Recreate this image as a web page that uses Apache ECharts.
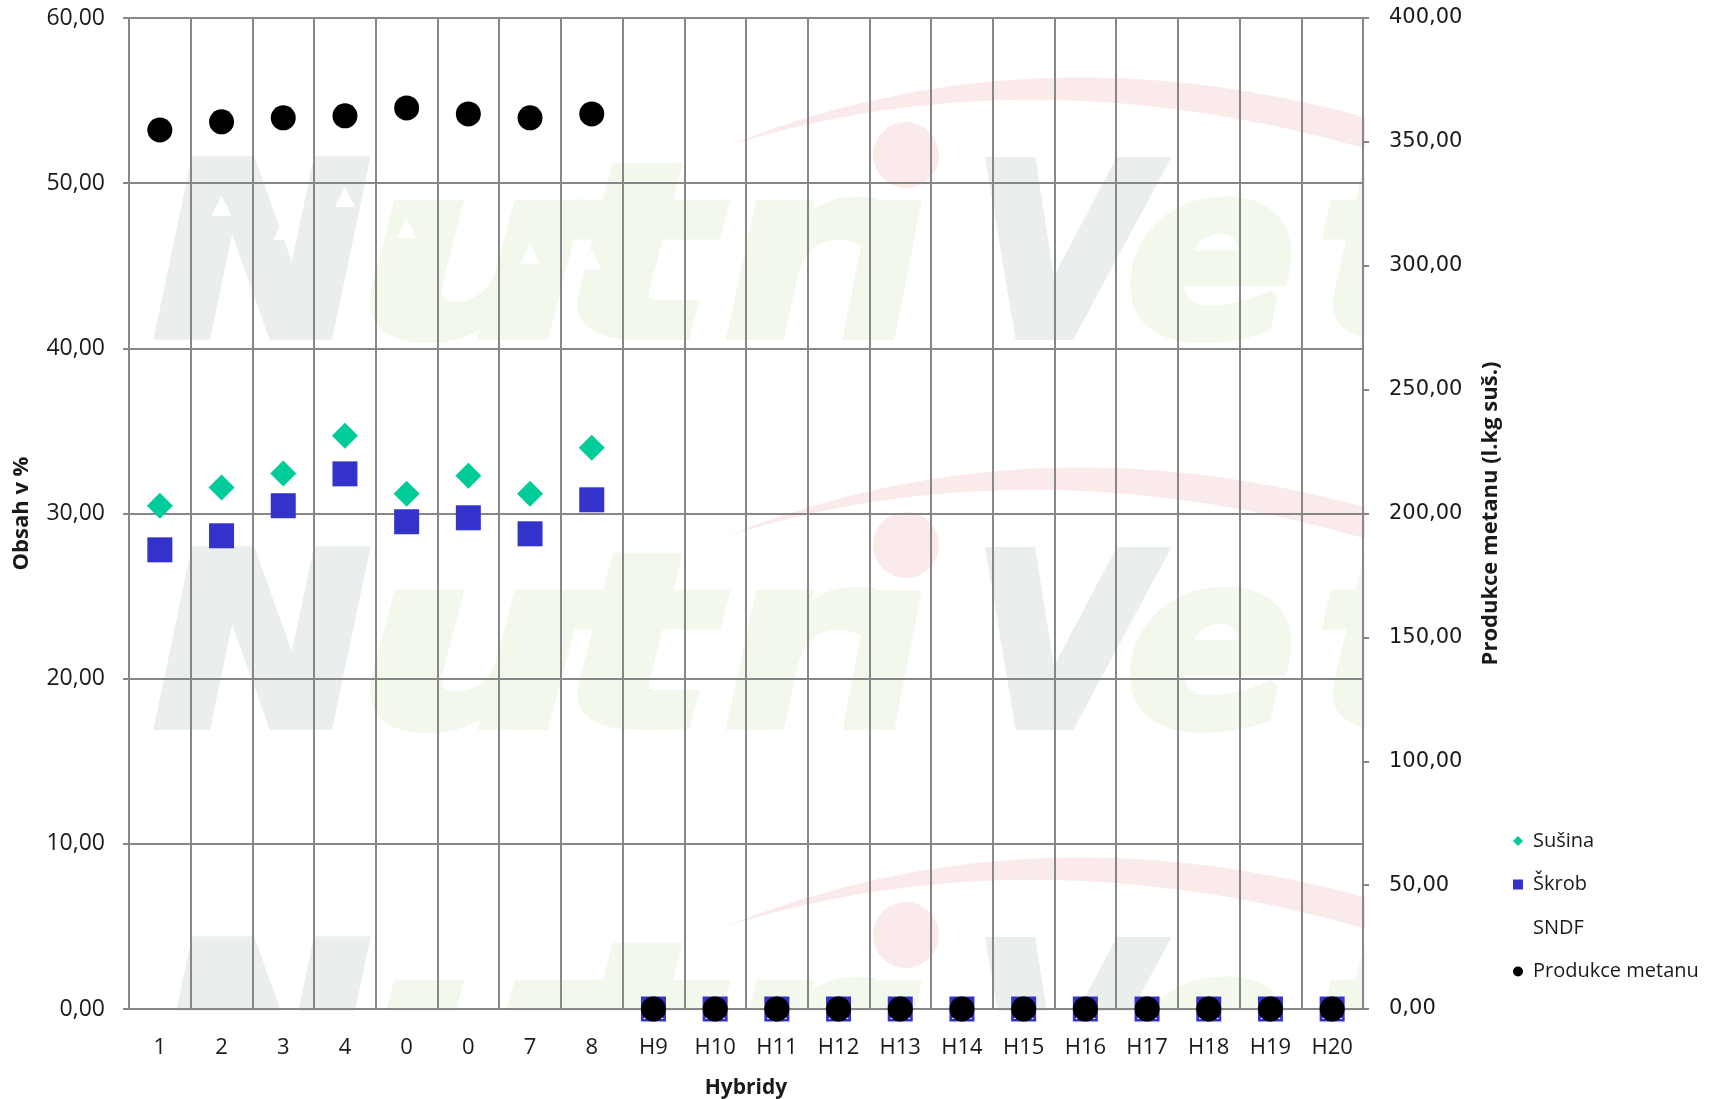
<!DOCTYPE html>
<html>
<head>
<meta charset="utf-8">
<title>Hybridy</title>
<script src="https://cdn.jsdelivr.net/npm/echarts@6/dist/echarts.min.js"></script>
<style>
  html, body { margin: 0; padding: 0; background: #ffffff; }
  #chart { width: 1713px; height: 1099px; }
</style>
</head>
<body>
<div id="chart"></div>
<script>
// Categories (hybrids) along the horizontal axis
const categories = ['1', '2', '3', '4', '0', '0', '7', '8',
  'H9', 'H10', 'H11', 'H12', 'H13', 'H14', 'H15', 'H16', 'H17', 'H18', 'H19', 'H20'];

// Content in % (left axis)
const susina = [30.47, 31.57, 32.42, 34.70, 31.19, 32.28, 31.19, 33.98,
  0, 0, 0, 0, 0, 0, 0, 0, 0, 0, 0, 0];
const skrob = [27.80, 28.65, 30.47, 32.40, 29.50, 29.74, 28.77, 30.83,
  0, 0, 0, 0, 0, 0, 0, 0, 0, 0, 0, 0];
const sndf = [46.5, 48.63, 47.17, 49.17, 47.29, 46.0, 45.72, 45.36,
  0, 0, 0, 0, 0, 0, 0, 0, 0, 0, 0, 0];

// Methane production in l per kg of dry matter (right axis)
const metan = [354.8, 358.1, 359.7, 360.5, 363.7, 361.3, 359.7, 361.3,
  0, 0, 0, 0, 0, 0, 0, 0, 0, 0, 0, 0];

const leftTicks = { min: 0, max: 60, interval: 10 };
const rightTicks = { min: 0, max: 400, interval: 50 };

const fmt = v => v.toFixed(2).replace('.', ',');

const GRID = { left: 129, right: 350, top: 18, bottom: 90, containLabel: false, outerBoundsMode: 'none' };
const LINE = '#878787';
const TEXT = '#1a1a1a';

// Faint background logo, repeated down the plot area
const GRAY = '#ebefec';
const GREEN = '#f3f8ec';
const PINK = '#fbeaea';
const logoLetters = [
  { ch: 'N', cx: 262, sx: 1.08, c: GRAY },
  { ch: 'u', cx: 472, sx: 1.35, c: GREEN },
  { ch: 't', cx: 636, sx: 1.35, c: GREEN },
  { ch: 'r', cx: 790, sx: 1.12, c: GREEN },
  { ch: '\u0131', cx: 882, sx: 1.0, c: GREEN },
  { ch: 'V', cx: 1061, sx: 0.95, c: GRAY },
  { ch: 'e', cx: 1211, sx: 1.05, c: GREEN },
  { ch: 't', cx: 1385, sx: 1.2, c: GREEN }
];

// crescent-shaped swoosh above the logo, outlined by two quadratic curves
function quad(p0, c, p2, n) {
  const pts = [];
  for (let i = 0; i <= n; i++) {
    const t = i / n, u = 1 - t;
    pts.push([u * u * p0[0] + 2 * u * t * c[0] + t * t * p2[0],
              u * u * p0[1] + 2 * u * t * c[1] + t * t * p2[1]]);
  }
  return pts;
}
const swoosh = quad([727, 146], [1060, 12], [1440, 140], 40)
  .concat(quad([1440, 172], [1060, 42], [727, 146], 40));

function logo(dy) {
  const els = [];
  els.push({
    type: 'polygon', z: -10, silent: true,
    shape: { points: swoosh.map(p => [p[0], p[1] + dy]) },
    style: { fill: PINK }
  });
  els.push({
    type: 'circle', z: -10, silent: true,
    shape: { cx: 906, cy: 155 + dy, r: 33 },
    style: { fill: PINK }
  });
  logoLetters.forEach(l => {
    els.push({
      type: 'text', z: -10, silent: true,
      x: l.cx, y: 273 + dy, scaleX: l.sx,
      style: {
        text: l.ch, x: 0, y: 0,
        font: 'italic bold 238px "DejaVu Sans"',
        fill: l.c, stroke: l.c, lineWidth: 10, lineJoin: 'round',
        verticalAlign: 'middle', align: 'center'
      }
    });
  });
  return els;
}
const graphics = [].concat(logo(0), logo(390), logo(780), [
  // keep the logo inside the plot area
  { type: 'rect', z: -5, silent: true, shape: { x: 1365, y: 0, width: 400, height: 1099 }, style: { fill: '#ffffff' } },
  { type: 'rect', z: -5, silent: true, shape: { x: 0, y: 1011, width: 1713, height: 100 }, style: { fill: '#ffffff' } }
]);

const chart = echarts.init(document.getElementById('chart'), null, { renderer: 'canvas' });

chart.setOption({
  backgroundColor: '#ffffff',
  animation: false,
  graphic: graphics,
  grid: GRID,
  legend: {
    orient: 'vertical',
    left: 1513,
    top: 831,
    padding: 0,
    itemWidth: 10,
    itemHeight: 10,
    itemGap: 23.5,
    textStyle: { fontFamily: '"Open Sans"', fontSize: 20, lineHeight: 20, color: TEXT, padding: [0, 0, 0, 5] },
    data: ['Sušina', 'Škrob', 'SNDF', 'Produkce metanu']
  },
  xAxis: {
    type: 'category',
    data: categories,
    boundaryGap: true,
    name: 'Hybridy',
    nameLocation: 'middle',
    nameGap: 69,
    nameTextStyle: { fontFamily: '"Open Sans"', fontWeight: 'bold', fontSize: 21, color: TEXT },
    axisLine: { show: true, lineStyle: { color: LINE, width: 2 } },
    axisTick: { show: false },
    axisLabel: { interval: 0, margin: 28, fontFamily: '"Open Sans"', fontSize: 22, color: TEXT },
    splitLine: { show: true, interval: 0, lineStyle: { color: LINE, width: 2 } }
  },
  yAxis: [
    {
      type: 'value',
      position: 'left',
      min: leftTicks.min, max: leftTicks.max, interval: leftTicks.interval,
      name: 'Obsah v %',
      nameLocation: 'middle',
      nameRotate: 90,
      nameGap: 96,
      nameTextStyle: { fontFamily: '"Open Sans"', fontWeight: 'bold', fontSize: 22, color: TEXT },
      axisLine: { show: true, lineStyle: { color: LINE, width: 2 } },
      axisTick: { show: true, inside: false, length: 6, lineStyle: { color: LINE, width: 2 } },
      axisLabel: { formatter: fmt, margin: 24, fontFamily: '"Open Sans"', fontSize: 23, color: TEXT },
      splitLine: { show: true, lineStyle: { color: LINE, width: 2 } }
    },
    {
      type: 'value',
      position: 'right',
      min: rightTicks.min, max: rightTicks.max, interval: rightTicks.interval,
      name: 'Produkce metanu (l.kg suš.)',
      nameLocation: 'middle',
      nameRotate: 90,
      nameGap: 117,
      nameTextStyle: { fontFamily: '"Open Sans"', fontWeight: 'bold', fontSize: 22, color: TEXT },
      axisLine: { show: true, lineStyle: { color: LINE, width: 2 } },
      axisTick: { show: true, inside: false, length: 6, lineStyle: { color: LINE, width: 2 } },
      axisLabel: { formatter: fmt, margin: 26, fontFamily: '"DejaVu Sans"', fontSize: 21, color: TEXT },
      splitLine: { show: false }
    }
  ],
  series: [
    {
      name: 'Sušina', type: 'scatter', yAxisIndex: 0, clip: false,
      symbol: 'diamond', symbolSize: 26,
      itemStyle: { color: '#00cc99', opacity: 1 },
      data: susina
    },
    {
      name: 'Škrob', type: 'scatter', yAxisIndex: 0, clip: false,
      symbol: 'rect', symbolSize: 25,
      itemStyle: { color: '#3333cc', opacity: 1 },
      data: skrob
    },
    {
      name: 'SNDF', type: 'scatter', yAxisIndex: 0, clip: false,
      symbol: 'triangle', symbolSize: 20,
      itemStyle: { color: '#ffffff', opacity: 1 },
      data: sndf
    },
    {
      name: 'Produkce metanu', type: 'scatter', yAxisIndex: 1, clip: false,
      symbol: 'circle', symbolSize: 25,
      itemStyle: { color: '#000000', opacity: 1 },
      data: metan
    }
  ]
});
</script>
</body>
</html>
